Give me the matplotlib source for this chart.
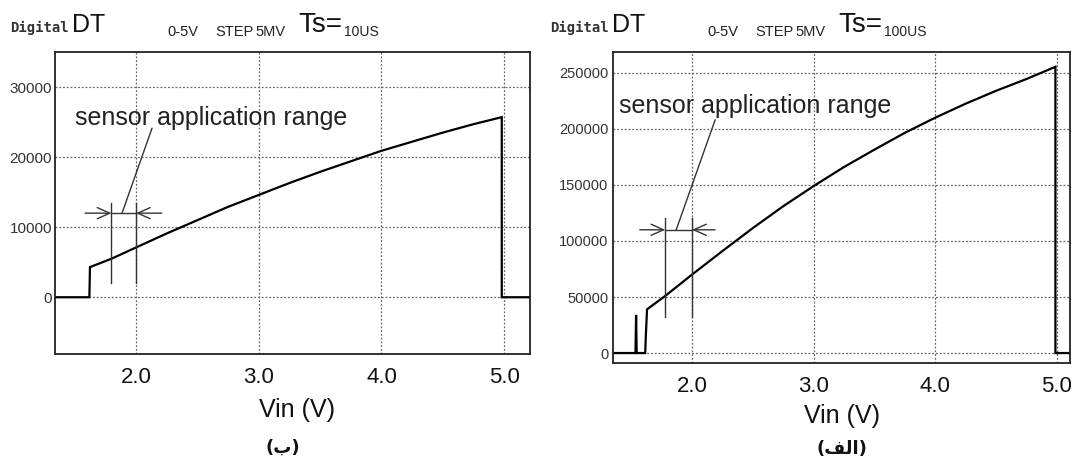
import matplotlib
matplotlib.use("Agg")
import matplotlib.pyplot as plt

plt.rcParams['font.family'] = ['Liberation Sans', 'DejaVu Sans']

# left panel (ب) : Ts = 10us
vin_b = [1.34, 1.62, 1.625, 1.8, 2.0, 2.25, 2.5, 2.75, 3.0, 3.25, 3.5, 3.75, 4.0,
         4.25, 4.5, 4.75, 4.98, 4.98, 5.21]
dt_b = [0, 0, 4300, 5500, 7100, 9100, 11000, 12900, 14600, 16300, 17900, 19400, 20900,
        22200, 23500, 24700, 25700, 0, 0]
yticks_b = [0, 10000, 20000, 30000]

# right panel (الف) : Ts = 100us
vin_a = [1.35, 1.535, 1.54, 1.545, 1.615, 1.62, 1.63, 1.78, 2.0, 2.25, 2.5, 2.75, 3.0,
         3.25, 3.5, 3.75, 4.0, 4.25, 4.5, 4.75, 4.99, 4.99, 5.11]
dt_a = [0, 0, 34000, 0, 0, 15000, 39000, 51000, 70000, 91000, 111500, 131000, 149000,
        166000, 181500, 196500, 210000, 222500, 234000, 244500, 255500, 0, 0]
yticks_a = [0, 50000, 100000, 150000, 200000, 250000]

xticks = [2.0, 3.0, 4.0, 5.0]
xticklabels = ['2.0', '3.0', '4.0', '5.0']

range_label = 'sensor application range'
# sensor range markers: (left V, right V), bar height, bar extent, vertical span
range_b = dict(v=(1.8, 2.0), y=12000, ext=(1.585, 2.21), span=(2000, 13500),
               lead=((1.886, 2.13), (12000, 24100)), txt=(1.50, 24600))
range_a = dict(v=(1.78, 2.0), y=110000, ext=(1.57, 2.19), span=(32000, 120500),
               lead=((1.87, 2.19), (110000, 208000)), txt=(1.40, 214000))

W, H = 1072, 470
fig = plt.figure(figsize=(W / 100, H / 100), dpi=100)

NARROW = ['Liberation Sans Narrow', 'Liberation Sans']


def px(x0, y0, x1, y1):
    return [x0 / W, 1 - y1 / H, (x1 - x0) / W, (y1 - y0) / H]


def draw_panel(ax, vin, dt, xlim, ylim, yticks, rng, ylab_size, xpad, ypad):
    ax.plot(vin, dt, color='black', lw=1.6, solid_joinstyle='miter')
    ax.set_xlim(*xlim)
    ax.set_ylim(*ylim)
    ax.set_xticks(xticks)
    ax.set_xticklabels(xticklabels)
    ax.set_yticks(yticks)
    ax.set_yticklabels([str(t) for t in yticks])
    ax.tick_params(axis='x', length=0, labelsize=16, pad=xpad, labelcolor='#111')
    ax.tick_params(axis='y', length=0, labelsize=ylab_size, pad=ypad, labelcolor='#333')
    ax.grid(True, color='#666', linestyle=(0, (1.5, 1.5)), lw=0.9)
    for s in ax.spines.values():
        s.set_color('#222')
        s.set_linewidth(1.3)

    # sensor application range marker
    c = '#333'
    v0, v1 = rng['v']
    y = rng['y']
    for v in (v0, v1):
        ax.plot([v, v], rng['span'], color=c, lw=1.0)
    ax.plot([v0, v1], [y, y], color=c, lw=1.0)
    arrow = dict(arrowstyle='->, head_length=0.9, head_width=0.4', color=c, lw=1.0,
                 shrinkA=0, shrinkB=0)
    ax.annotate('', xy=(v0, y), xytext=(rng['ext'][0], y), arrowprops=arrow)
    ax.annotate('', xy=(v1, y), xytext=(rng['ext'][1], y), arrowprops=arrow)
    ax.plot(rng['lead'][0], rng['lead'][1], color=c, lw=1.0)
    ax.text(rng['txt'][0], rng['txt'][1], range_label, fontsize=18, color='#222',
            ha='left', va='baseline')


ax_b = fig.add_axes(px(55, 52, 530, 354))
draw_panel(ax_b, vin_b, dt_b, (1.34, 5.21), (-8100, 35000), yticks_b, range_b, 11, 9.5, 2)

ax_a = fig.add_axes(px(613, 52, 1070, 363))
draw_panel(ax_a, vin_a, dt_a, (1.35, 5.11), (-8900, 268700), yticks_a, range_a, 10.5, 9, 3.5)


def header(x0, ts):
    yb = 1 - 32 / H
    fig.text(x0 / W, yb, 'Digital', family='DejaVu Sans Mono', fontsize=10,
             fontweight='bold', color='#333', va='baseline')
    fig.text((x0 + 62) / W, yb, 'DT', family=NARROW, fontsize=18, color='#111',
             va='baseline')
    fig.text((x0 + 157) / W, yb - 4 / H, '0-5V', family=NARROW, fontsize=10.5,
             color='#222', va='baseline')
    fig.text((x0 + 205) / W, yb - 4 / H, 'STEP', family=NARROW, fontsize=10.5,
             color='#222', va='baseline')
    fig.text((x0 + 245) / W, yb - 4 / H, '5MV', family=NARROW, fontsize=10.5,
             color='#222', va='baseline')
    fig.text((x0 + 288) / W, yb, 'Ts=', family=NARROW, fontsize=20, color='#111',
             va='baseline')
    fig.text((x0 + 334) / W, yb - 4 / H, ts, family=NARROW, fontsize=10,
             color='#222', va='baseline')


header(10, '10US')
header(550, '100US')

# axis titles and panel captions
fig.text(297 / W, 1 - 410 / H, 'Vin (V)', fontsize=18, ha='center', va='center', color='#111')
fig.text(842 / W, 1 - 416 / H, 'Vin (V)', fontsize=18, ha='center', va='center', color='#111')
fig.text(283 / W, 1 - 448 / H, '(\u0628)', family='DejaVu Sans', fontsize=13,
         fontweight='bold', ha='center', va='center', color='#111')
fig.text(842 / W, 1 - 449 / H, '(\uFED2\uFEDF\uFE8D)', family='DejaVu Sans', fontsize=13,
         fontweight='bold', ha='center', va='center', color='#111')

fig.savefig('out.png', dpi=100)
